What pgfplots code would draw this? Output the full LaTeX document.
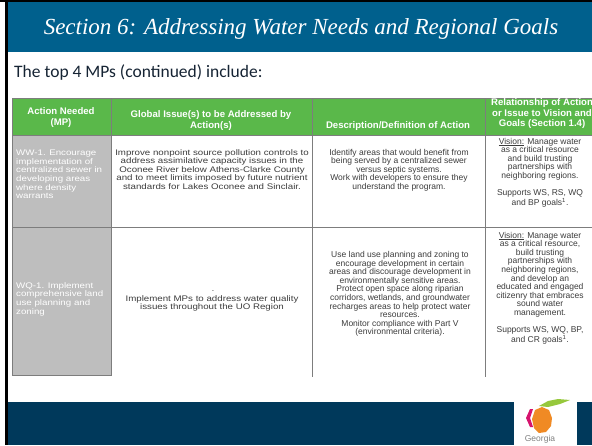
\documentclass[border=0pt]{standalone}
\usepackage{fontspec}
\setmainfont{Liberation Sans}
\newfontfamily\wide[FakeStretch=1.2]{Liberation Sans}
\newfontfamily\titlefont{Liberation Serif}
\newfontfamily\calibri{Carlito}
\usepackage{pgfplots}
\pgfplotsset{compat=1.18}
\definecolor{titlebar}{RGB}{0,96,141}
\definecolor{footbar}{RGB}{0,57,91}
\definecolor{hdrgreen}{RGB}{90,184,74}
\definecolor{cellgray}{RGB}{190,190,190}
\definecolor{rulegray}{RGB}{125,125,125}
\definecolor{txt}{RGB}{60,60,60}
\definecolor{subtxt}{RGB}{22,36,52}
\definecolor{peach}{RGB}{240,138,36}
\definecolor{peachpink}{RGB}{214,20,110}
\definecolor{leaf}{RGB}{150,200,60}
% tight underline that does not run into the next line
\newcommand\ul[1]{\setbox0\hbox{#1}\rlap{\rule[-0.9pt]{\wd0}{0.45pt}}#1}
\tikzset{
  cell/.style={font=\fontsize{8.5}{8.6}\selectfont, text=txt, align=center, inner sep=0pt},
  widecell/.style={font=\wide\fontsize{8.1}{8.6}\selectfont, text=txt, align=center, inner sep=0pt},
  mp/.style={font=\wide\fontsize{8.1}{8.6}\selectfont, text=white, align=left, inner sep=0pt, anchor=west},
  hdr/.style={font=\fontsize{9.6}{10.5}\selectfont\bfseries, text=white, align=center, inner sep=0pt},
}

\begin{document}
\begin{tikzpicture}
\begin{axis}[
  width=592pt, height=445pt, scale only axis,
  xmin=0, xmax=592, ymin=0, ymax=445, y dir=reverse,
  hide axis,
]
% page frame
\addplot[fill=white, draw=none] coordinates {(0,0)(592,0)(592,445)(0,445)} -- cycle;
\addplot[fill=black, draw=none] coordinates {(0,0)(592,0)(592,2)(0,2)} -- cycle;
\addplot[fill=black, draw=none] coordinates {(5,0)(7.5,0)(7.5,445)(5,445)} -- cycle;
% title and footer bars
\addplot[fill=titlebar, draw=none] coordinates {(7.5,2)(592,2)(592,52)(7.5,52)} -- cycle;
\addplot[fill=footbar, draw=none] coordinates {(7.5,402)(592,402)(592,445)(7.5,445)} -- cycle;
\addplot[fill=white, draw=none] coordinates {(514,400)(577,400)(577,445)(514,445)} -- cycle;
% table fills
\addplot[fill=hdrgreen, draw=none] coordinates {(12,98)(597,98)(597,135)(12,135)} -- cycle;
\addplot[fill=cellgray, draw=none] coordinates {(12,135)(111,135)(111,375)(12,375)} -- cycle;
% table rules
\addplot[rulegray, line width=0.8pt] coordinates {(12,98)(12,375)(111,375)(111,98)};
\addplot[rulegray, line width=0.8pt] coordinates {(111,135)(597,135)};
\addplot[rulegray, line width=0.8pt] coordinates {(12,135)(111,135)};
\addplot[rulegray, line width=1.4pt] coordinates {(12,227.5)(597,227.5)};
\addplot[rulegray, line width=0.8pt] coordinates {(312,98)(312,377)};
\addplot[rulegray, line width=0.8pt] coordinates {(485,98)(485,377)};
\addplot[rulegray, line width=0.8pt] coordinates {(12,98)(597,98)};
% logo
\addplot[fill=peachpink, draw=none] coordinates {(530,409)(526,418)(530,427)(533,427)(530,418)(533,409)} -- cycle;
\addplot[fill=peach, draw=none] coordinates {(542,407)(549,410)(552,418)(551,426)(546,432)(539,433)(534,428)(532,419)(535,410)} -- cycle;
\addplot[fill=leaf, draw=none] coordinates {(539,406)(548,401)(558,399)(570,400)(560,404)(548,407)} -- cycle;
\node[font=\fontsize{8.5}{9}\selectfont, text=gray, inner sep=0pt] at (axis cs:540,439) {Georgia};

% title and subtitle
\node[font=\titlefont\itshape\fontsize{23}{27}\selectfont, text=white, inner sep=0pt] at (axis cs:301,29) {Section 6: Addressing Water Needs and Regional Goals};
\node[font=\calibri\fontsize{17.5}{20}\selectfont, text=subtxt, anchor=west, inner sep=0pt] at (axis cs:14,73) {The top 4 MPs (continued) include:};

% header
\node[hdr] at (axis cs:61,117.5) {Action Needed\\(MP)};
\node[hdr] at (axis cs:211,120.5) {Global Issue(s) to be Addressed by\\Action(s)};
\node[hdr] at (axis cs:398,126) {Description/Definition of Action};
\node[hdr] at (axis cs:542,114) {Relationship of Action\\or Issue to Vision and\\Goals (Section 1.4)};

% row 1
\node[mp] at (axis cs:16,174.5) {WW-1. Encourage\\implementation of\\centralized sewer in\\developing areas\\where density\\warrants};
\node[widecell] at (axis cs:212,169.5) {Improve nonpoint source pollution controls to\\address assimilative capacity issues in the\\Oconee River below Athens-Clarke County\\and to meet limits imposed by future nutrient\\standards for Lakes Oconee and Sinclair.};
\node[cell] at (axis cs:399,170) {Identify areas that would benefit from\\being served by a centralized sewer\\versus septic systems.\\Work with developers to ensure they\\understand the program.};
\node[cell] at (axis cs:540,172.5) {\ul{Vision:} Manage water\\as a critical resource\\and build trusting\\partnerships with\\neighboring regions.\\[8.6pt]Supports WS, RS, WQ\\and BP goals\textsuperscript{1}.};

% row 2
\node[mp] at (axis cs:16,299) {WQ-1. Implement\\comprehensive land\\use planning and\\zoning};
\node[cell] at (axis cs:213,291) {.};
\node[widecell] at (axis cs:212,303.5) {Implement MPs to address water quality\\issues throughout the UO Region};
\node[cell] at (axis cs:400,294) {Use land use planning and zoning to\\encourage development in certain\\areas and discourage development in\\environmentally sensitive areas.\\Protect open space along riparian\\corridors, wetlands, and groundwater\\recharges areas to help protect water\\resources.\\Monitor compliance with Part V\\(environmental criteria).};
\node[cell] at (axis cs:540,288) {\ul{Vision:} Manage water\\as a critical resource,\\build trusting\\partnerships with\\neighboring regions,\\and develop an\\educated and engaged\\citizenry that embraces\\sound water\\management.\\[8.6pt]Supports WS, WQ, BP,\\and CR goals\textsuperscript{1}.};
\end{axis}
\pgfresetboundingbox
\path[use as bounding box] (0,0) rectangle (592pt,445pt);
\end{tikzpicture}
\end{document}
